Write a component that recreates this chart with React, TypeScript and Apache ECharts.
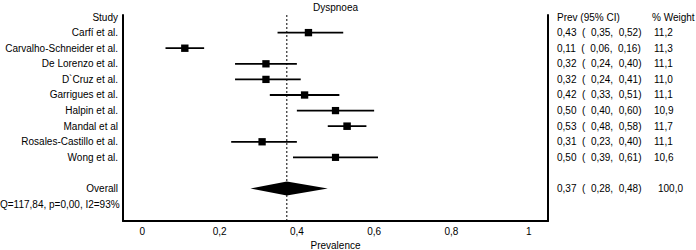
import React, { useEffect, useRef } from "react";
import * as echarts from "echarts";

const chartTitle = "Dyspnoea";
const headers = ["Study", "Prev (95% CI)", "% Weight"];
const studies = [
  "Carfí et al.",
  "Carvalho-Schneider et al.",
  "De Lorenzo et al.",
  "D`Cruz et al.",
  "Garrigues et al.",
  "Halpin et al.",
  "Mandal et al",
  "Rosales-Castillo et al.",
  "Wong et al.",
];
const prevalence = [0.43, 0.11, 0.32, 0.32, 0.42, 0.5, 0.53, 0.31, 0.5];
const lower = [0.35, 0.06, 0.24, 0.24, 0.33, 0.4, 0.48, 0.23, 0.39];
const upper = [0.52, 0.16, 0.4, 0.41, 0.51, 0.6, 0.58, 0.4, 0.61];
const weights = [11.2, 11.3, 11.1, 11.0, 11.1, 10.9, 11.7, 11.1, 10.6];
const ciLabels = [
  "0,43  (  0,35,  0,52)",
  "0,11  (  0,06,  0,16)",
  "0,32  (  0,24,  0,40)",
  "0,32  (  0,24,  0,41)",
  "0,42  (  0,33,  0,51)",
  "0,50  (  0,40,  0,60)",
  "0,53  (  0,48,  0,58)",
  "0,31  (  0,23,  0,40)",
  "0,50  (  0,39,  0,61)",
];
const weightLabels = ["11,2", "11,3", "11,1", "11,0", "11,1", "10,9", "11,7", "11,1", "10,6"];
const overallName = "Overall";
const overallValues = [0.374, 0.28, 0.48]; // pooled, lower, upper
const overallCiLabel = "0,37  (  0,28,  0,48)";
const overallWeightLabel = "100,0";
const heterogeneity = "Q=117,84, p=0,00, I2=93%";
const xTicks = [0, 0.2, 0.4, 0.6, 0.8, 1];
const xTickLabels = ["0", "0,2", "0,4", "0,6", "0,8", "1"];
const xAxisName = "Prevalence";

const FONT = "'Liberation Sans', Arial, sans-serif";
const FS = 10;

export default function App() {
  const ref = useRef<HTMLDivElement>(null);
  useEffect(() => {
    if (!ref.current) return;
    const chart = echarts.init(ref.current, undefined, { renderer: "svg" });

    const studyRows = studies.map((_, i) => i + 1);
    const overallRow = studies.length + 2;
    const hetRow = overallRow + 1;

    const textRows: any[] = [
      { row: 0, name: headers[0], ci: headers[1], w: headers[2], wOff: 104 },
      ...studies.map((s, i) => ({ row: studyRows[i], name: s, ci: ciLabels[i], w: weightLabels[i], wOff: 106 })),
      { row: overallRow, name: overallName, ci: overallCiLabel, w: overallWeightLabel, wOff: 110 },
      { row: hetRow, name: heterogeneity, ci: "", w: "", wOff: 0, leftAlign: true },
    ];

    const txt = (x: number, y: number, text: string, align: string) => ({
      type: "text",
      x,
      y,
      style: {
        text,
        fill: "#000",
        font: `${FS}px ${FONT}`,
        align,
        verticalAlign: "middle",
      },
    });

    const yAxisBase = {
      type: "value",
      min: -0.13,
      max: 13.08,
      inverse: true,
      axisLine: { show: true, onZero: false, lineStyle: { color: "#000", width: 2 } },
      axisTick: { show: false },
      axisLabel: { show: false },
      splitLine: { show: false },
    };

    chart.setOption({
      animation: false,
      backgroundColor: "#fff",
      grid: { left: 123, right: 148, top: 15, bottom: 29, outerBoundsMode: "none" },
      graphic: [
        {
          type: "text",
          x: 335.5,
          y: 7,
          style: {
            text: chartTitle,
            fill: "#000",
            font: `${FS}px ${FONT}`,
            align: "center",
            verticalAlign: "middle",
          },
        },
      ],
      xAxis: {
        type: "value",
        min: -0.05,
        max: 1.05,
        axisLine: { show: true, onZero: false, lineStyle: { color: "#000", width: 2 } },
        axisTick: { show: false },
        splitLine: { show: false },
        axisLabel: {
          customValues: xTicks,
          color: "#000",
          fontSize: FS,
          fontFamily: FONT,
          margin: 5,
          formatter: (v: number) => {
            const i = xTicks.findIndex((t) => Math.abs(t - v) < 1e-9);
            return i >= 0 ? xTickLabels[i] : "";
          },
        },
        name: xAxisName,
        nameLocation: "middle",
        nameGap: 16,
        nameTextStyle: { color: "#000", fontSize: FS, fontFamily: FONT },
      },
      yAxis: [
        { ...yAxisBase, position: "left" },
        { ...yAxisBase, position: "right" },
      ],
      series: [
        {
          type: "custom",
          name: "studies",
          data: studies.map((_, i) => [prevalence[i], studyRows[i], lower[i], upper[i], weights[i]]),
          encode: { x: [0, 2, 3], y: 1 },
          renderItem: (params: any, api: any) => {
            const r = api.value(1);
            const p = api.coord([api.value(0), r]);
            const l = api.coord([api.value(2), r]);
            const u = api.coord([api.value(3), r]);
            const s = Math.sqrt(api.value(4)) * 2.2;
            return {
              type: "group",
              children: [
                {
                  type: "line",
                  shape: { x1: l[0], y1: l[1], x2: u[0], y2: u[1] },
                  style: { stroke: "#000", lineWidth: 1.8 },
                },
                {
                  type: "rect",
                  shape: { x: p[0] - s / 2, y: p[1] - s / 2, width: s, height: s },
                  style: { fill: "#000" },
                },
              ],
            };
          },
        },
        {
          type: "custom",
          name: "overall",
          data: [[overallValues[0], overallRow, overallValues[1], overallValues[2]]],
          encode: { x: [0, 2, 3], y: 1 },
          renderItem: (params: any, api: any) => {
            const r = api.value(1);
            const p = api.coord([api.value(0), r]);
            const l = api.coord([api.value(2), r]);
            const u = api.coord([api.value(3), r]);
            const cs = params.coordSys;
            const h = 7;
            return {
              type: "group",
              children: [
                {
                  type: "polygon",
                  shape: {
                    points: [
                      [l[0], p[1]],
                      [p[0], p[1] - h],
                      [u[0], p[1]],
                      [p[0], p[1] + h],
                    ],
                  },
                  style: { fill: "#000" },
                },
                {
                  type: "line",
                  shape: { x1: p[0], y1: cs.y, x2: p[0], y2: cs.y + cs.height },
                  style: { stroke: "#000", lineWidth: 1, lineDash: [2, 2] },
                },
              ],
            };
          },
        },
        {
          type: "custom",
          name: "labels",
          data: textRows.map((t) => [0, t.row]),
          encode: { x: 0, y: 1 },
          renderItem: (params: any, api: any) => {
            const t = textRows[params.dataIndex];
            const cs = params.coordSys;
            const y = api.coord([0, api.value(1)])[1];
            const right = cs.x + cs.width;
            const children: any[] = [
              t.leftAlign ? txt(0, y, t.name, "left") : txt(cs.x - 5, y, t.name, "right"),
            ];
            if (t.ci) children.push(txt(right + 9, y, t.ci, "left"));
            if (t.w) children.push(txt(right + t.wOff, y, t.w, "left"));
            return { type: "group", children };
          },
        },
      ],
    });
    return () => chart.dispose();
  }, []);
  return (
    <div
      ref={ref}
      style={{ position: "fixed", left: 0, top: 0, width: 696, height: 250, background: "#fff" }}
    />
  );
}
